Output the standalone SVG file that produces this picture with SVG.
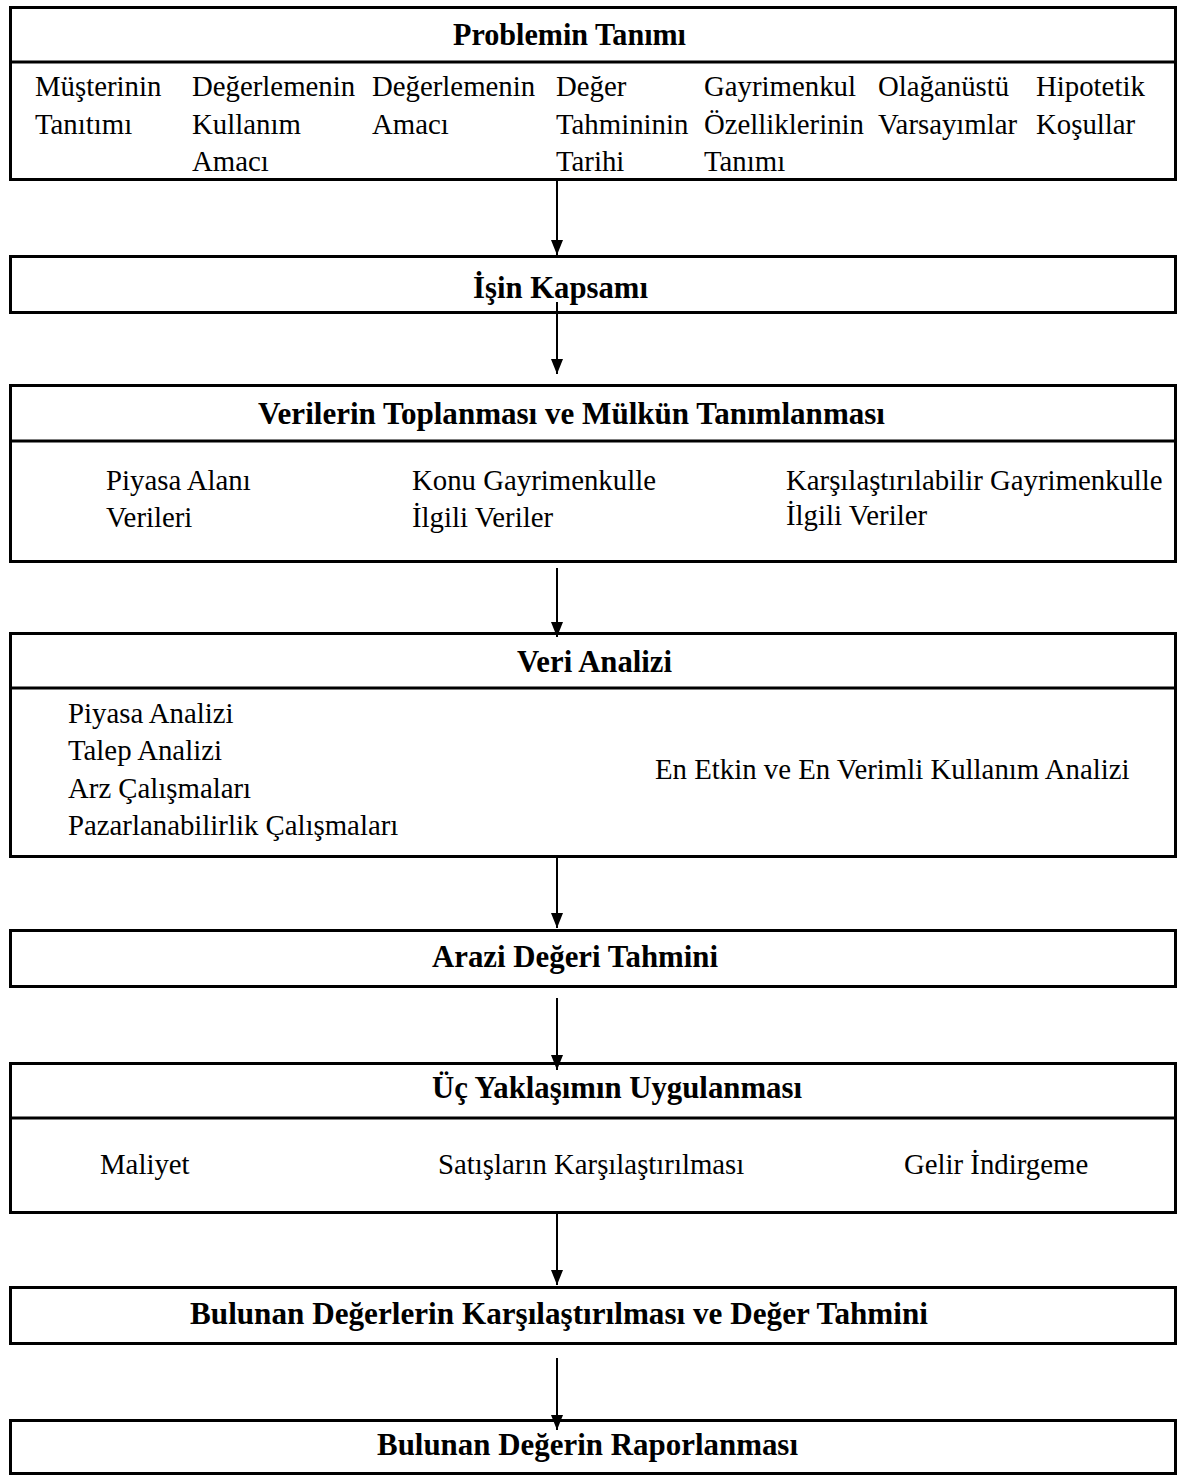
<svg xmlns="http://www.w3.org/2000/svg" width="1187" height="1477" viewBox="0 0 1187 1477">
  <style>
    .box { fill: #fff; stroke: #000; stroke-width: 3; }
    .div { stroke: #000; stroke-width: 3; }
    .hd { font-family: 'Liberation Serif', 'DejaVu Serif', serif; font-weight: bold; font-size: 30.5px; fill: #000; }
    .tx { font-family: 'Liberation Serif', 'DejaVu Serif', serif; font-size: 28.8px; fill: #000; }
    .conn { stroke: #000; stroke-width: 2; fill: none; marker-end: url(#arrow); }
  </style>
  <defs>
    <marker id="arrow" markerUnits="userSpaceOnUse" markerWidth="15" markerHeight="12" refX="15" refY="6" orient="auto" viewBox="0 0 15 12">
      <path d="M0,0 L15,6 L0,12 Z" fill="#000"/>
    </marker>
  </defs>
  <rect width="1187" height="1477" fill="#fff"/>

  <!-- Problem definition -->
  <g id="problem">
    <rect class="box" x="10.5" y="7.5" width="1165" height="172"/>
    <line class="div" x1="10.5" y1="62" x2="1175.5" y2="62"/>
    <text class="hd" x="453" y="45" textLength="233" lengthAdjust="spacingAndGlyphs">Problemin Tanımı</text>
    <text class="tx" x="35" y="96">Müşterinin</text>
    <text class="tx" x="35" y="134">Tanıtımı</text>
    <text class="tx" x="192" y="96">Değerlemenin</text>
    <text class="tx" x="192" y="134">Kullanım</text>
    <text class="tx" x="192" y="171">Amacı</text>
    <text class="tx" x="372" y="96">Değerlemenin</text>
    <text class="tx" x="372" y="134">Amacı</text>
    <text class="tx" x="556" y="96">Değer</text>
    <text class="tx" x="556" y="134">Tahmininin</text>
    <text class="tx" x="556" y="171">Tarihi</text>
    <text class="tx" x="704" y="96">Gayrimenkul</text>
    <text class="tx" x="704" y="134">Özelliklerinin</text>
    <text class="tx" x="704" y="171">Tanımı</text>
    <text class="tx" x="878" y="96">Olağanüstü</text>
    <text class="tx" x="878" y="134">Varsayımlar</text>
    <text class="tx" x="1036" y="96">Hipotetik</text>
    <text class="tx" x="1036" y="134">Koşullar</text>
  </g>

  <!-- Scope of work -->
  <g id="scope">
    <rect class="box" x="10.5" y="256.5" width="1165" height="56"/>
    <text class="hd" x="473" y="298" textLength="175" lengthAdjust="spacingAndGlyphs">İşin Kapsamı</text>
  </g>

  <!-- Data collection -->
  <g id="data-collection">
    <rect class="box" x="10.5" y="385.5" width="1165" height="176"/>
    <line class="div" x1="10.5" y1="441" x2="1175.5" y2="441"/>
    <text class="hd" x="258" y="424" textLength="627" lengthAdjust="spacingAndGlyphs">Verilerin Toplanması ve Mülkün Tanımlanması</text>
    <text class="tx" x="106" y="490">Piyasa Alanı</text>
    <text class="tx" x="106" y="527">Verileri</text>
    <text class="tx" x="412" y="490">Konu Gayrimenkulle</text>
    <text class="tx" x="412" y="527">İlgili Veriler</text>
    <text class="tx" x="786" y="490">Karşılaştırılabilir Gayrimenkulle</text>
    <text class="tx" x="786" y="525">İlgili Veriler</text>
  </g>

  <!-- Data analysis -->
  <g id="data-analysis">
    <rect class="box" x="10.5" y="633.5" width="1165" height="223"/>
    <line class="div" x1="10.5" y1="688" x2="1175.5" y2="688"/>
    <text class="hd" x="517" y="672" textLength="155" lengthAdjust="spacingAndGlyphs">Veri Analizi</text>
    <text class="tx" x="68" y="723">Piyasa Analizi</text>
    <text class="tx" x="68" y="760">Talep Analizi</text>
    <text class="tx" x="68" y="798">Arz Çalışmaları</text>
    <text class="tx" x="68" y="835">Pazarlanabilirlik Çalışmaları</text>
    <text class="tx" x="655" y="779">En Etkin ve En Verimli Kullanım Analizi</text>
  </g>

  <!-- Land value estimate -->
  <g id="land-value">
    <rect class="box" x="10.5" y="930.5" width="1165" height="56"/>
    <text class="hd" x="432" y="967" textLength="286" lengthAdjust="spacingAndGlyphs">Arazi Değeri Tahmini</text>
  </g>

  <!-- Three approaches -->
  <g id="approaches">
    <rect class="box" x="10.5" y="1063.5" width="1165" height="149"/>
    <line class="div" x1="10.5" y1="1118" x2="1175.5" y2="1118"/>
    <text class="hd" x="432" y="1098" textLength="370" lengthAdjust="spacingAndGlyphs">Üç Yaklaşımın Uygulanması</text>
    <text class="tx" x="100" y="1174">Maliyet</text>
    <text class="tx" x="438" y="1174">Satışların Karşılaştırılması</text>
    <text class="tx" x="904" y="1174">Gelir İndirgeme</text>
  </g>

  <!-- Reconciliation -->
  <g id="reconciliation">
    <rect class="box" x="10.5" y="1287.5" width="1165" height="56"/>
    <text class="hd" x="190" y="1324" textLength="738" lengthAdjust="spacingAndGlyphs">Bulunan Değerlerin Karşılaştırılması ve Değer Tahmini</text>
  </g>

  <!-- Report -->
  <g id="report">
    <rect class="box" x="10.5" y="1420.5" width="1165" height="53"/>
    <text class="hd" x="377" y="1455" textLength="421" lengthAdjust="spacingAndGlyphs">Bulunan Değerin Raporlanması</text>
  </g>

  <!-- Connectors -->
  <g id="connectors">
    <line class="conn" x1="557" y1="181" x2="557" y2="255"/>
    <line class="conn" x1="557" y1="302" x2="557" y2="374"/>
    <line class="conn" x1="557" y1="568" x2="557" y2="637"/>
    <line class="conn" x1="557" y1="858" x2="557" y2="928"/>
    <line class="conn" x1="557" y1="998" x2="557" y2="1070"/>
    <line class="conn" x1="557" y1="1214" x2="557" y2="1285"/>
    <line class="conn" x1="557" y1="1358" x2="557" y2="1430"/>
  </g>
</svg>
